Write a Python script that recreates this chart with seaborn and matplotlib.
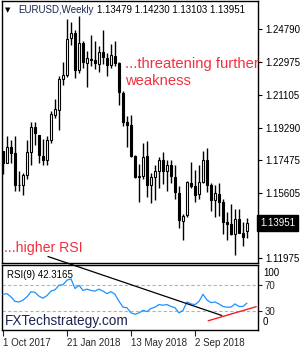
import matplotlib
matplotlib.use("Agg")
import matplotlib.pyplot as plt
import matplotlib.transforms as mtransforms
import numpy as np
import pandas as pd
import seaborn as sns

# ---------------- data ----------------
opens = [1.1797, 1.1730, 1.1820, 1.1785, 1.1610, 1.1607, 1.1665, 1.1795, 1.1935, 1.1890,
         1.1770, 1.1750, 1.1860, 1.2000, 1.2030, 1.2200, 1.2222, 1.2430, 1.2460, 1.2250,
         1.2405, 1.2290, 1.2315, 1.2305, 1.2287, 1.2353, 1.2320, 1.2280, 1.2330, 1.2290,
         1.2125, 1.1958, 1.1945, 1.1770, 1.1650, 1.1660, 1.1770, 1.1605, 1.1650, 1.1685,
         1.1745, 1.1685, 1.1720, 1.1655, 1.1565, 1.1405, 1.1440, 1.1620, 1.1600, 1.1555,
         1.1625, 1.1750, 1.1605, 1.1525, 1.1560, 1.1510, 1.1400, 1.1390, 1.1335, 1.1415,
         1.1340, 1.13479]
highs = [1.1800, 1.1880, 1.1860, 1.1880, 1.1688, 1.1674, 1.1861, 1.1961, 1.1961, 1.1890,
         1.1863, 1.1880, 1.2023, 1.2089, 1.2219, 1.2296, 1.2538, 1.2520, 1.2475, 1.2556,
         1.2413, 1.2355, 1.2446, 1.2413, 1.2388, 1.2476, 1.2344, 1.2396, 1.2414, 1.2295,
         1.2135, 1.1995, 1.1997, 1.1775, 1.1723, 1.1840, 1.1852, 1.1675, 1.1720, 1.1765,
         1.1790, 1.1745, 1.1750, 1.1720, 1.1600, 1.1445, 1.1628, 1.1734, 1.1690, 1.1720,
         1.1800, 1.1815, 1.1620, 1.1610, 1.1620, 1.1530, 1.1456, 1.1500, 1.1472, 1.1472,
         1.1402, 1.14230]
lows = [1.1669, 1.1730, 1.1730, 1.1574, 1.1574, 1.1554, 1.1640, 1.1720, 1.1830, 1.1730,
        1.1717, 1.1720, 1.1840, 1.1980, 1.1915, 1.2165, 1.2212, 1.2390, 1.2205, 1.2234,
        1.2260, 1.2155, 1.2272, 1.2258, 1.2240, 1.2283, 1.2215, 1.2260, 1.2275, 1.2055,
        1.1940, 1.1822, 1.1763, 1.1647, 1.1510, 1.1640, 1.1541, 1.1508, 1.1526, 1.1590,
        1.1612, 1.1575, 1.1617, 1.1530, 1.1365, 1.1301, 1.1430, 1.1590, 1.1510, 1.1530,
        1.1620, 1.1570, 1.1460, 1.1430, 1.1432, 1.1335, 1.1301, 1.1330, 1.1216, 1.1338,
        1.1267, 1.13103]
closes = [1.1732, 1.1822, 1.1785, 1.1608, 1.1608, 1.1665, 1.1795, 1.1934, 1.1896, 1.1773,
          1.1748, 1.1859, 1.2005, 1.2032, 1.2199, 1.2223, 1.2426, 1.2459, 1.2252, 1.2405,
          1.2296, 1.2317, 1.2307, 1.2288, 1.2352, 1.2323, 1.2280, 1.2333, 1.2288, 1.2130,
          1.1960, 1.1942, 1.1768, 1.1653, 1.1658, 1.1767, 1.1605, 1.1654, 1.1684, 1.1747,
          1.1686, 1.1718, 1.1657, 1.1568, 1.1410, 1.1437, 1.1622, 1.1600, 1.1553, 1.1622,
          1.1749, 1.1605, 1.1525, 1.1561, 1.1511, 1.1400, 1.1387, 1.1336, 1.1415, 1.1338,
          1.1317, 1.13951]
rsi = [56, 57, 52, 45, 44, 47, 52, 60, 59, 53, 50, 54, 61, 63, 70, 71, 78, 80, 65, 70,
       62, 64, 62, 61, 64, 61, 57, 60, 56, 45, 36, 35, 27, 25, 27, 31, 29, 34, 36, 40,
       39, 40, 37, 35, 27, 31, 44, 41, 40, 45, 56, 47, 43, 44, 41, 37, 36, 36, 41, 37,
       37, 42.3165]

price_ticks = [1.24790, 1.22975, 1.21105, 1.19290, 1.17475, 1.15605, 1.11975]
last_price = 1.13951
rsi_levels = [30, 70]
rsi_edge_labels = ["100", "0"]
date_tick_idx = [0, 16, 32, 48]
date_labels = ["1 Oct 2017", "21 Jan 2018", "13 May 2018", "2 Sep 2018"]

# analyst trend lines (index, RSI value)
black_line_x = [11.25, 54.7]
black_line_y = [114.8, 23.0]
red_line_x = [51.3, 63.3]
red_line_y = [14.8, 36.7]

# ---------------- figure ----------------
sns.set_theme(style="white")
plt.rcParams["font.family"] = ["Liberation Sans", "DejaVu Sans"]

fig = plt.figure(figsize=(3.0, 3.5), dpi=100)
W, H = 300, 350

def fx(px):
    return px / W

def fy(py):
    return 1 - py / H

ax = fig.add_axes([fx(2), fy(263), fx(258) - fx(2), fy(1) - fy(263)])
axr = fig.add_axes([fx(2), fy(330), fx(258) - fx(2), fy(265) - fy(330)])

idx = np.arange(len(closes))
df = pd.DataFrame({"i": idx, "open": opens, "high": highs, "low": lows,
                   "close": closes, "rsi": rsi})

# candles
ax.vlines(df["i"], df["low"], df["high"], color="black", lw=1.0, zorder=2)
bull = df["close"] >= df["open"]
body_bottom = np.minimum(df["open"], df["close"])
body_h = np.abs(df["close"] - df["open"]).clip(lower=0.00012)
ax.bar(df["i"][bull], body_h[bull], bottom=body_bottom[bull], width=0.5,
       color="white", edgecolor="black", linewidth=0.8, zorder=3)
ax.bar(df["i"][~bull], body_h[~bull], bottom=body_bottom[~bull], width=0.5,
       color="black", edgecolor="black", linewidth=0.8, zorder=3)

ax.set_xlim(-0.25, 63.75)
ax.set_ylim(1.11712, 1.26374)
ax.yaxis.tick_right()
ax.set_yticks(price_ticks)
ax.set_yticklabels([f"{v:.5f}" for v in price_ticks])
ax.tick_params(axis="y", which="both", direction="out", length=3, width=0.8,
               labelsize=7, pad=2, colors="black", right=True, left=False)
ax.set_xticks([])
for s in ax.spines.values():
    s.set_color("black")
    s.set_linewidth(1.0)
ax.grid(False)

# current price box
trans = mtransforms.blended_transform_factory(ax.transAxes, ax.transData)
ax.text(1.008, last_price, f"{last_price:.5f}", transform=trans, fontsize=7,
        color="white", va="center", ha="left", zorder=5,
        bbox=dict(boxstyle="square,pad=0.3", fc="black", ec="black"))

# RSI panel
for lv in rsi_levels:
    axr.axhline(lv, color="#b4b4b4", lw=0.8, ls=(0, (3, 2)), zorder=1)
sns.lineplot(data=df, x="i", y="rsi", ax=axr, color="#1e90ff", lw=0.9, zorder=3)
axr.set_xlim(-0.25, 63.75)
axr.set_ylim(0.4, 101.6)
axr.yaxis.tick_right()
axr.set_yticks(rsi_levels)
axr.set_yticklabels([str(v) for v in rsi_levels])
axr.tick_params(axis="y", direction="out", length=3, width=0.8, labelsize=7,
                pad=2, right=True, left=False)
transr = mtransforms.blended_transform_factory(axr.transAxes, axr.transData)
axr.text(1.0 + 5 / 256, 89.6, rsi_edge_labels[0], transform=transr, fontsize=7,
         va="center", ha="left", color="black")
axr.text(1.0 + 5 / 256, 13.3, rsi_edge_labels[1], transform=transr, fontsize=7,
         va="center", ha="left", color="black")
axr.set_xticks(date_tick_idx)
axr.set_xticklabels(date_labels, ha="left")
axr.tick_params(axis="x", direction="out", length=4, width=0.8, labelsize=7,
                pad=2, bottom=True)
axr.set_xlabel("")
axr.set_ylabel("")
for s in axr.spines.values():
    s.set_color("black")
    s.set_linewidth(1.0)

axr.plot(black_line_x, black_line_y, color="black", lw=0.9, clip_on=False, zorder=4)
axr.plot(red_line_x, red_line_y, color="#f0202a", lw=1.0, clip_on=False, zorder=4)

# texts
red = "#f23040"
navy = "#1a2550"
fig.text(fx(5), fy(10), "\u25BC", fontsize=5, color="black", va="center", ha="left",
         family=["DejaVu Sans"])
fig.text(fx(18), fy(10), "EURUSD,Weekly", fontsize=7, color=navy, va="center", ha="left")
fig.text(fx(97), fy(10), "1.13479 1.14230 1.13103 1.13951", fontsize=7, color="black",
         va="center", ha="left")
fig.text(fx(125), fy(64), "...threatening further", fontsize=10.6, color=red,
         va="center", ha="left")
fig.text(fx(125), fy(81), "weakness", fontsize=10.6, color=red, va="center", ha="left")
fig.text(fx(4), fy(248), "...higher RSI", fontsize=10.2, color=red, va="center", ha="left")
fig.text(fx(7), fy(275), "RSI(9) 42.3165", fontsize=7, color="black",
         va="center", ha="left")
fig.text(fx(5), fy(321), "FXTechstrategy.com", fontsize=9.8, color=navy,
         va="center", ha="left")

fig.savefig("out.png", dpi=100, facecolor="white")
